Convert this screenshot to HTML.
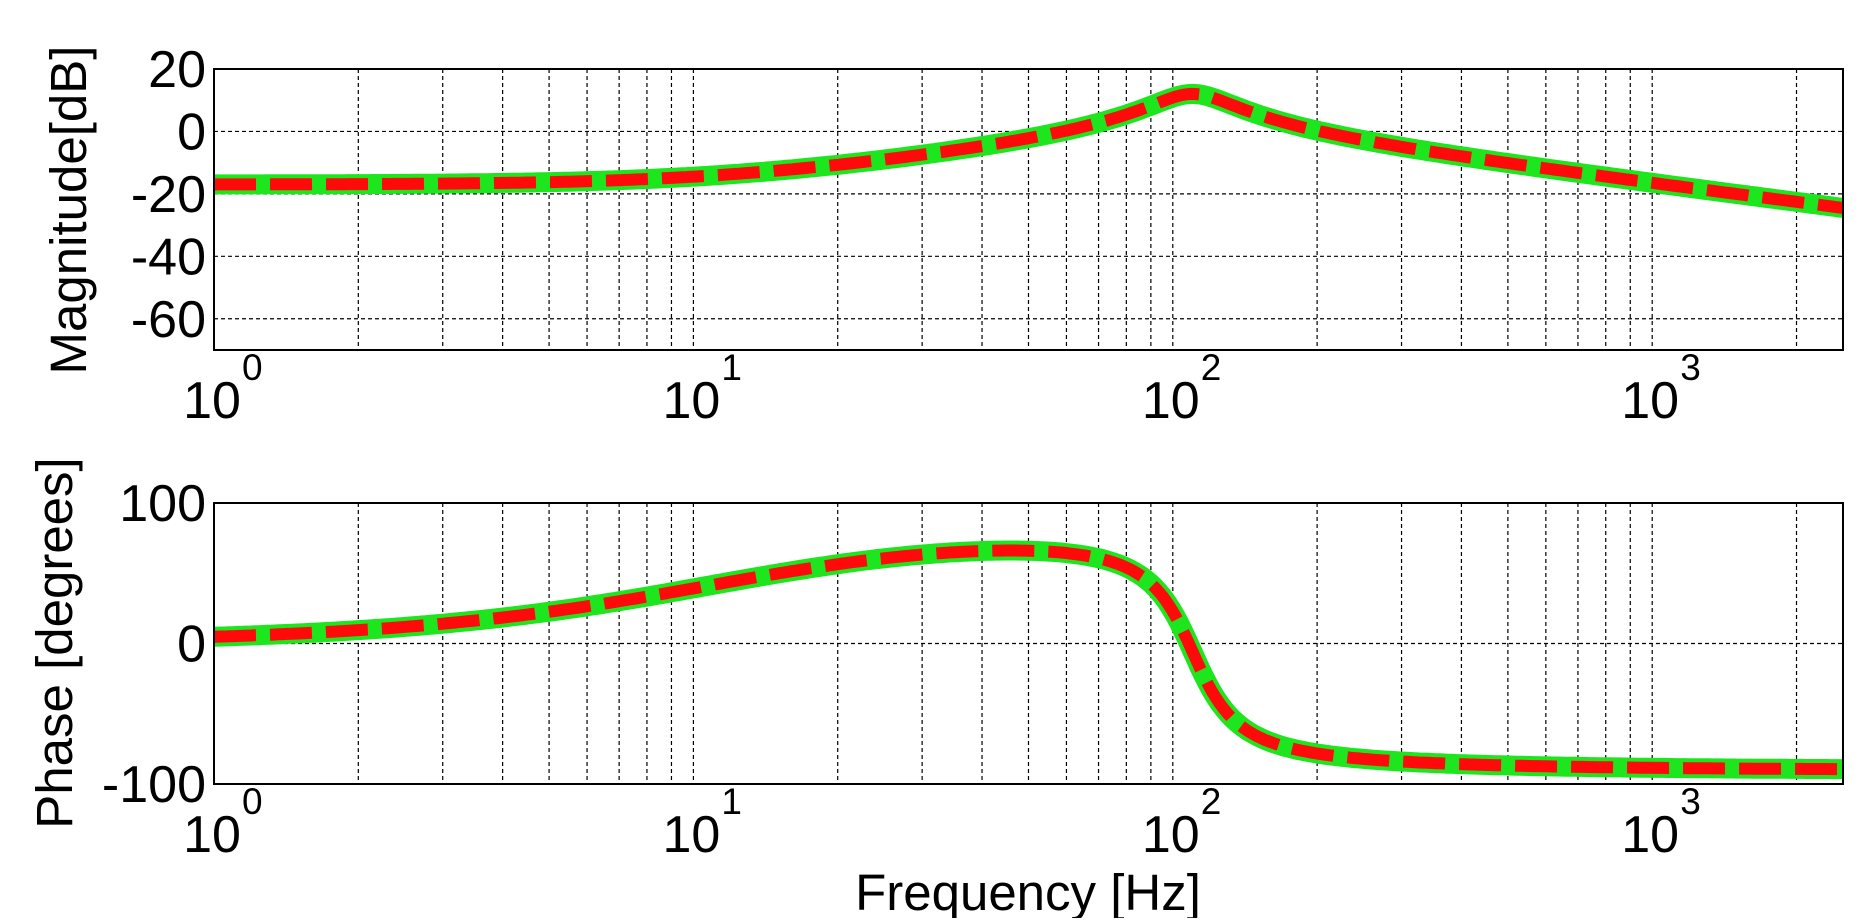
<!DOCTYPE html>
<html><head><meta charset="utf-8"><style>
html,body{margin:0;padding:0;background:#fff;}
svg text{font-family:"Liberation Sans",Arial,sans-serif;fill:#000;}
</style></head><body>
<svg id="s" width="1875" height="918" xmlns="http://www.w3.org/2000/svg"></svg>
<script>
const S=document.getElementById('s');
const X0=214,D=479.4,XR=1843;
const fx=f=>X0+Math.log10(f)*D;
let h='';
const axes=[{t:69,b:350,ymin:-70,ymax:20,ticks:[20,0,-20,-40,-60]},{t:503,b:784,ymin:-100,ymax:100,ticks:[100,0,-100]}];
function ymap(a,v){return a.b-(v-a.ymin)/(a.ymax-a.ymin)*(a.b-a.t);}
const z=11.5,fn=110,zeta=0.17,K=Math.pow(10,-17/20);
function H(f){
 const wr=f/fn;
 const nr=1,ni=f/z;
 const dr=1-wr*wr,di=2*zeta*wr;
 const den=dr*dr+di*di;
 const re=(nr*dr+ni*di)/den, im=(ni*dr-nr*di)/den;
 return {m:20*Math.log10(K*Math.hypot(re,im)),p:Math.atan2(im,re)*180/Math.PI};
}
axes.forEach((a,i)=>{
 for(let d=0;d<4;d++)for(let k=1;k<10;k++){const f=k*Math.pow(10,d);if(f<=1||f>=2500)continue;const x=fx(f);
  h+=`<line x1="${x}" y1="${a.t}" x2="${x}" y2="${a.b}" stroke="#000" stroke-width="1.2" stroke-dasharray="4,3"/>`;}
 a.ticks.forEach(v=>{const y=ymap(a,v);if(y>a.t+1&&y<a.b-1)h+=`<line x1="${X0}" y1="${y}" x2="${XR}" y2="${y}" stroke="#000" stroke-width="1.2" stroke-dasharray="4,3"/>`;
  h+=`<text x="${X0-8}" y="${y+18}" font-size="52" text-anchor="end">${v}</text>`;});
 [0,1,2,3].forEach(d=>{const x=fx(Math.pow(10,d));
  h+=`<text x="${x-2}" y="${a.b+68}" font-size="52" text-anchor="middle">10</text><text x="${x+28}" y="${a.b+30}" font-size="37">${d}</text>`;});
 let pts=[];
 for(let j=0;j<=400;j++){const f=Math.pow(10,j/400*Math.log10(2500));const r=H(f);pts.push(fx(f).toFixed(1)+','+ymap(a,i?r.p:r.m).toFixed(1));}
 const p=pts.join(' ');
 h+=`<polyline points="${p}" fill="none" stroke="#1ee61e" stroke-width="20"/>`;
 h+=`<polyline points="${p}" fill="none" stroke="#ff0a0a" stroke-width="12" stroke-dasharray="42,14"/>`;
 h+=`<rect x="${X0}" y="${a.t}" width="${XR-X0}" height="${a.b-a.t}" fill="none" stroke="#000" stroke-width="2"/>`;
});
h+=`<text transform="translate(86,210) rotate(-90)" font-size="51" text-anchor="middle">Magnitude[dB]</text>`;
h+=`<text transform="translate(72,643) rotate(-90)" font-size="51" text-anchor="middle">Phase [degrees]</text>`;
h+=`<text x="1028" y="910" font-size="51" text-anchor="middle">Frequency [Hz]</text>`;
S.innerHTML=h;
</script>
</body></html>
